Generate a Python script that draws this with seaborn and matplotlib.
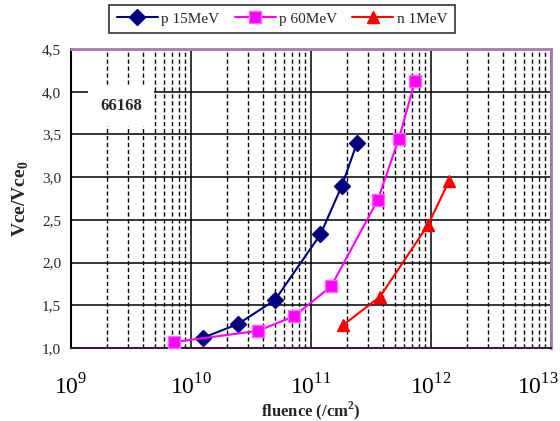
import numpy as np
import pandas as pd
import matplotlib
matplotlib.use("Agg")
import matplotlib.pyplot as plt
import matplotlib.transforms as mtransforms
from matplotlib.ticker import LogLocator, FixedLocator, NullFormatter
import seaborn as sns

# values
p15_fluence = [1.26e10, 2.46e10, 5.0e10, 1.2e11, 1.81e11, 2.42e11]
p15_ratio = [1.12, 1.28, 1.56, 2.33, 2.90, 3.40]
p60_fluence = [7.2e9, 3.6e10, 7.2e10, 1.47e11, 3.6e11, 5.4e11, 7.36e11]
p60_ratio = [1.07, 1.20, 1.37, 1.72, 2.73, 3.45, 4.12]
n1_fluence = [1.86e11, 3.76e11, 9.44e11, 1.41e12]
n1_ratio = [1.27, 1.60, 2.44, 2.95]

series_names = ["p 15MeV", "p 60MeV", "n 1MeV"]
y_ticks = [1.0, 1.5, 2.0, 2.5, 3.0, 3.5, 4.0, 4.5]
y_labels = ["1,0", "1,5", "2,0", "2,5", "3,0", "3,5", "4,0", "4,5"]
x_ticks = [1e9, 1e10, 1e11, 1e12, 1e13]
x_labels = ["$10^{9}$", "$10^{10}$", "$10^{11}$", "$10^{12}$", "$10^{13}$"]

sns.set_style("white")
plt.rcParams['font.family'] = ['Liberation Serif', 'DejaVu Serif']
plt.rcParams['mathtext.fontset'] = 'custom'
plt.rcParams['mathtext.rm'] = 'Liberation Serif'
plt.rcParams['mathtext.bf'] = 'Liberation Serif:bold'

df = pd.concat([
    pd.DataFrame({"fluence": p15_fluence, "ratio": p15_ratio, "series": series_names[0]}),
    pd.DataFrame({"fluence": p60_fluence, "ratio": p60_ratio, "series": series_names[1]}),
    pd.DataFrame({"fluence": n1_fluence, "ratio": n1_ratio, "series": series_names[2]}),
])

fig = plt.figure(figsize=(5.6, 4.21), dpi=100)
ax = fig.add_axes([0.1268, 0.1734, 0.857, 0.7102])

styles = {
    "p 15MeV": dict(color="#000080", marker="D", markersize=8, mfc="#000080", mec="#000080"),
    "p 60MeV": dict(color="#FF00FF", marker="s", markersize=8, mfc="#FF00FF", mec="#FF66FF"),
    "n 1MeV": dict(color="#FF0000", marker="^", markersize=9, mfc="#FF0000", mec="#FF0000"),
}
for name in series_names:
    sub = df[df["series"] == name]
    st = styles[name]
    sns.lineplot(data=sub, x="fluence", y="ratio", ax=ax, label=name,
                 color=st["color"], marker=st["marker"], markersize=st["markersize"],
                 markerfacecolor=st["mfc"], markeredgecolor=st["mec"],
                 markeredgewidth=1, linewidth=1.5, zorder=3)

ax.set_xscale("log")
ax.set_xlim(1e9, 1e13)
ax.set_ylim(1.0, 4.5)

ax.xaxis.set_major_locator(FixedLocator(x_ticks))
ax.set_xticklabels(x_labels, fontsize=17)
ax.xaxis.set_minor_locator(LogLocator(base=10, subs=np.arange(2, 10), numticks=20))
ax.xaxis.set_minor_formatter(NullFormatter())
ax.set_yticks(y_ticks)
ax.set_yticklabels(y_labels, fontsize=11)

ax.tick_params(axis="x", which="major", direction="out", length=5, width=1, pad=14, colors="black")
ax.tick_params(axis="x", which="minor", length=0)
ax.tick_params(axis="y", direction="out", length=4, width=1, pad=3)

# last decade label sits at the right edge, pull it in a little
last = ax.get_xticklabels()[-1]
last.set_transform(last.get_transform() + mtransforms.ScaledTranslation(-0.13, 0, fig.dpi_scale_trans))

ax.grid(True, which="major", axis="both", color="black", linewidth=1.1, linestyle="-", zorder=1)
ax.grid(True, which="minor", axis="x", color="black", linewidth=1.0, linestyle=(0, (3, 2)), zorder=1)
ax.set_axisbelow(True)

for side in ["top", "right"]:
    ax.spines[side].set_color("#A57AAE")
    ax.spines[side].set_linewidth(2)
ax.spines["left"].set_color("black")
ax.spines["left"].set_linewidth(1.5)
ax.spines["bottom"].set_color("#3a1a3a")
ax.spines["bottom"].set_linewidth(1.5)

ax.set_xlabel("fluence (/cm$^{\\mathbf{2}}$)", fontsize=12, fontweight="bold", labelpad=0)
ax.set_ylabel("Vce/Vce$_{\\mathbf{0}}$", fontsize=14, fontweight="bold", labelpad=8)

ax.text(0.104, 0.81, "66168", transform=ax.transAxes, fontsize=12, fontweight="bold",
        ha="center", va="center", zorder=4,
        bbox=dict(facecolor="white", edgecolor="none", pad=9))

leg = ax.legend(loc="center", bbox_to_anchor=(282 / 560, 1 - 19 / 421),
                bbox_transform=fig.transFigure, ncol=3, frameon=True, fancybox=False,
                fontsize=11, handlelength=2.7, columnspacing=1.0, handletextpad=0.2,
                borderpad=0.5, borderaxespad=0)
leg.get_frame().set_edgecolor("black")
leg.get_frame().set_linewidth(1.2)

fig.savefig("out.png", dpi=100)
